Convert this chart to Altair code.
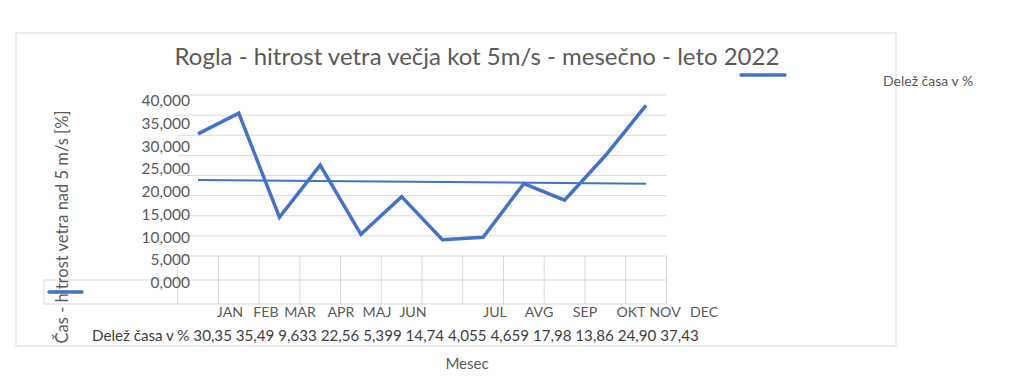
import altair as alt
import pandas as pd

# ---- data ----
months = ["JAN", "FEB", "MAR", "APR", "MAJ", "JUN", "JUL", "AVG", "SEP", "OKT", "NOV", "DEC"]
share = [30.35, 35.49, 9.633, 22.56, 5.399, 14.74, 4.055, 4.659, 17.98, 13.86, 24.90, 37.43]
y_ticks = [0, 5, 10, 15, 20, 25, 30, 35, 40]
series_name = "Delež časa v %"
chart_title = "Rogla - hitrost vetra večja kot 5m/s - mesečno - leto 2022"
y_title = "Čas - hitrost vetra nad 5 m/s [%]"
x_title = "Mesec"

# ---- layout (chart coordinates = page - 8) ----
FONT = "Lato"
GRAY = "#595959"
GRID = "#d9d9d9"
BLUE = "#4472C4"
O = 8
x_scale = alt.Scale(domain=[0, 11], range=[198 - O, 646 - O], nice=False, zero=False)
y_scale = alt.Scale(domain=[0, 40], range=[256 - O, 95 - O], nice=False, zero=False)
tick_scale = alt.Scale(domain=[0, 40], range=[283 - O, 101 - O], nice=False, zero=False)
month_label_px = [230, 266, 300, 341, 377, 413, 495, 539, 585, 631, 665, 704]
month_scale = alt.Scale(domain=list(range(12)), range=[p - O for p in month_label_px],
                        nice=False, zero=False)

df = pd.DataFrame({"idx": list(range(12)), "month": months, "share": share})
ticks_df = pd.DataFrame({"v": y_ticks,
                         "label": [f"{v:.3f}".replace(".", ",") for v in y_ticks]})
bounds_df = pd.DataFrame({"b": [i - 0.5 for i in range(13)]})
one = pd.DataFrame({"a": [0]})

row_text = series_name + " " + " ".join(f"{v:#.4g}".replace(".", ",") for v in share)

layers = []

# outer chart border
layers.append(alt.Chart(one).mark_rect(fillOpacity=0, stroke=GRID, strokeWidth=1).encode(
    x=alt.value(16 - O), x2=alt.value(896 - O), y=alt.value(33 - O), y2=alt.value(346 - O)))

# horizontal gridlines
layers.append(alt.Chart(ticks_df).mark_rule(color=GRID, strokeWidth=1).encode(
    y=alt.Y("v:Q", scale=y_scale, axis=None),
    x=alt.X(datum=-0.5, type="quantitative", scale=x_scale, axis=None),
    x2=alt.X2(datum=11.5)))

# vertical category lines under the plot (data-table area)
layers.append(alt.Chart(bounds_df).mark_rule(color=GRID, strokeWidth=1).encode(
    x=alt.X("b:Q", scale=x_scale, axis=None),
    y=alt.value(256 - O), y2=alt.value(304 - O)))

# table row lines
for yy in (280, 304):
    layers.append(alt.Chart(one).mark_rule(color=GRID, strokeWidth=1).encode(
        x=alt.value(44 - O), x2=alt.value(666 - O), y=alt.value(yy - O)))
layers.append(alt.Chart(one).mark_rule(color=GRID, strokeWidth=1).encode(
    x=alt.value(44 - O), y=alt.value(280 - O), y2=alt.value(304 - O)))

# main series line
layers.append(alt.Chart(df).mark_line(color=BLUE, strokeWidth=3.5, strokeJoin="miter").encode(
    x=alt.X("idx:Q", scale=x_scale, axis=None),
    y=alt.Y("share:Q", scale=y_scale, axis=None)))

# linear trend line
layers.append(alt.Chart(df).transform_regression("idx", "share").mark_line(
    color=BLUE, strokeWidth=2).encode(
    x=alt.X("idx:Q", scale=x_scale, axis=None),
    y=alt.Y("share:Q", scale=y_scale, axis=None)))

# y tick labels
layers.append(alt.Chart(ticks_df).mark_text(
    align="right", baseline="middle", font=FONT, fontSize=15.5, color=GRAY).encode(
    y=alt.Y("v:Q", scale=tick_scale, axis=None),
    x=alt.value(190 - O), text="label:N"))

# month labels
layers.append(alt.Chart(df).mark_text(
    align="center", baseline="middle", font=FONT, fontSize=14.2, color=GRAY).encode(
    x=alt.X("idx:Q", scale=month_scale, axis=None),
    y=alt.value(313 - O), text="month:N"))

# data table row
layers.append(alt.Chart(pd.DataFrame({"t": [row_text]})).mark_text(
    align="left", baseline="middle", font=FONT, fontSize=15.15, color="#404040").encode(
    x=alt.value(92 - O), y=alt.value(336 - O), text="t:N"))

# y-axis title (rotated)
layers.append(alt.Chart(pd.DataFrame({"t": [y_title]})).mark_text(
    align="center", baseline="middle", angle=270, font=FONT, fontSize=16.5, color=GRAY).encode(
    x=alt.value(63 - O), y=alt.value(227 - O), text="t:N"))

# legend keys
layers.append(alt.Chart(one).mark_rule(color=BLUE, strokeWidth=3.5, strokeCap="round").encode(
    x=alt.value(49 - O), x2=alt.value(82 - O), y=alt.value(292 - O)))
layers.append(alt.Chart(one).mark_rule(color=BLUE, strokeWidth=3.5, strokeCap="round").encode(
    x=alt.value(741 - O), x2=alt.value(785 - O), y=alt.value(75 - O)))

# legend text
layers.append(alt.Chart(pd.DataFrame({"t": [series_name]})).mark_text(
    align="left", baseline="middle", font=FONT, fontSize=14, color=GRAY).encode(
    x=alt.value(883 - O), y=alt.value(82 - O), text="t:N"))

# chart title
layers.append(alt.Chart(pd.DataFrame({"t": [chart_title]})).mark_text(
    align="center", baseline="middle", font=FONT, fontSize=24, color=GRAY).encode(
    x=alt.value(477 - O), y=alt.value(58 - O), text="t:N"))

# x-axis title
layers.append(alt.Chart(pd.DataFrame({"t": [x_title]})).mark_text(
    align="center", baseline="middle", font=FONT, fontSize=15, color=GRAY).encode(
    x=alt.value(467 - O), y=alt.value(364 - O), text="t:N"))

chart = alt.layer(*layers).resolve_scale(x="independent", y="independent").properties(
    width=1008, height=371, padding=0,
    autosize=alt.AutoSizeParams(type="none"),
).configure_view(strokeWidth=0)

chart.save("out.html", embed_options={"renderer": "svg", "actions": False})
